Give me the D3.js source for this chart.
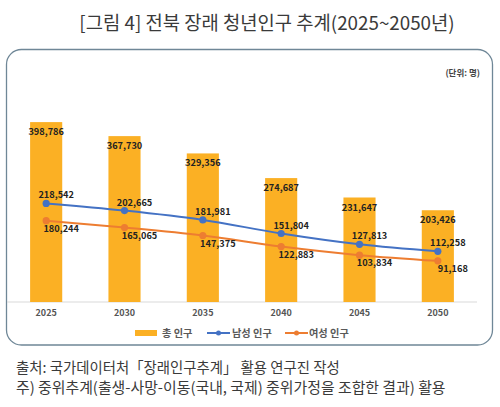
<!DOCTYPE html>
<html>
<head>
<meta charset="utf-8">
<script src="https://cdn.jsdelivr.net/npm/d3@7"></script>
<style>
  html, body { margin: 0; padding: 0; background: #fff; }
  svg { display: block; font-family: "Noto Sans CJK KR", "Noto Sans", sans-serif; }
</style>
</head>
<body>
<div class="canvas"></div>
<script>
// 데이터
const years = ['2025', '2030', '2035', '2040', '2045', '2050'];
const total = [398786, 367730, 329356, 274687, 231647, 203426];
const male = [218542, 202665, 181981, 151804, 127813, 112258];
const female = [180244, 165065, 147375, 122883, 103834, 91168];
const seriesNames = ['총 인구', '남성 인구', '여성 인구'];

const W = 500, H = 407;
const colors = { bar: '#FBB024', male: '#4472C4', female: '#ED7D31' };

const svg = d3.select('.canvas')
  .append('svg')
  .attr('width', W)
  .attr('height', H);

// 제목
svg.append('text')
  .attr('x', 267).attr('y', 30)
  .attr('text-anchor', 'middle')
  .attr('font-size', 18.8)
  .attr('fill', '#3a3a3a')
  .text('[그림 4] 전북 장래 청년인구 추계(2025~2050년)');

// 차트 테두리
svg.append('rect')
  .attr('x', 6.5).attr('y', 49.5)
  .attr('width', 486).attr('height', 295.5)
  .attr('rx', 15).attr('ry', 15)
  .attr('fill', '#fff')
  .attr('stroke', '#6f8797')
  .attr('stroke-width', 1.3);

svg.append('text')
  .attr('x', 480).attr('y', 76)
  .attr('text-anchor', 'end')
  .attr('font-size', 8.5)
  .attr('font-weight', 'bold')
  .attr('fill', '#444')
  .text('(단위: 명)');

// 스케일
const x = d3.scaleBand().domain(years).range([7, 477]).paddingInner(0.59).paddingOuter(0.295);
const y = d3.scaleLinear().domain([0, 450000]).range([302, 99]);
const cx = d => x(d) + x.bandwidth() / 2;

// 축
const xAxis = svg.append('g')
  .attr('transform', 'translate(0,302)')
  .call(d3.axisBottom(x).tickSize(0).tickPadding(8));
xAxis.select('.domain').attr('stroke', '#d9d9d9').attr('d', 'M7,0H477');
xAxis.selectAll('text')
  .attr('font-family', '"Noto Sans CJK KR", sans-serif')
  .attr('font-size', 9)
  .attr('font-weight', 'bold')
  .attr('fill', '#555');

// 막대
svg.append('g').selectAll('rect')
  .data(total)
  .enter().append('rect')
  .attr('x', (d, i) => x(years[i]))
  .attr('y', d => y(d))
  .attr('width', x.bandwidth())
  .attr('height', d => y(0) - y(d))
  .attr('fill', colors.bar);

svg.append('g').selectAll('text')
  .data(total)
  .enter().append('text')
  .attr('x', (d, i) => cx(years[i]))
  .attr('y', d => y(d) + 13)
  .attr('text-anchor', 'middle')
  .attr('font-size', 9.2)
  .attr('font-weight', 'bold')
  .attr('fill', '#222')
  .text(d => d3.format(',')(d));

// 선 (엑셀 부드러운 선 느낌)
const line = d3.line()
  .curve(d3.curveMonotoneX)
  .x((d, i) => cx(years[i]))
  .y(d => y(d));

const drawSeries = (vals, color, dx, dy) => {
  const g = svg.append('g');
  g.append('path')
    .datum(vals)
    .attr('d', line)
    .attr('fill', 'none')
    .attr('stroke', color)
    .attr('stroke-width', 2);
  g.selectAll('circle')
    .data(vals)
    .enter().append('circle')
    .attr('cx', (d, i) => cx(years[i]))
    .attr('cy', d => y(d))
    .attr('r', 3.6)
    .attr('fill', color);
  g.selectAll('text')
    .data(vals)
    .enter().append('text')
    .attr('x', (d, i) => cx(years[i]) + dx)
    .attr('y', d => y(d) + dy)
    .attr('text-anchor', 'middle')
    .attr('font-size', 9.2)
    .attr('font-weight', 'bold')
    .attr('fill', '#222')
    .text(d => d3.format(',')(d));
};
drawSeries(male, colors.male, 10, -5);
drawSeries(female, colors.female, 15, 11);

// 범례
const legend = svg.append('g').attr('transform', 'translate(0,333)');
legend.append('rect')
  .attr('x', 135).attr('y', -3).attr('width', 22).attr('height', 6)
  .attr('fill', colors.bar);
[[207, colors.male], [285, colors.female]].forEach(([lx, c]) => {
  legend.append('line')
    .attr('x1', lx).attr('x2', lx + 23)
    .attr('stroke', c).attr('stroke-width', 2);
  legend.append('circle')
    .attr('cx', lx + 11.5).attr('r', 2.5).attr('fill', c);
});
legend.selectAll('text')
  .data(seriesNames)
  .enter().append('text')
  .attr('x', (d, i) => [162, 232, 309][i])
  .attr('y', 3.8)
  .attr('font-size', 10.2)
  .attr('font-weight', 'bold')
  .attr('fill', '#595959')
  .text(d => d);

// 출처
svg.append('text')
  .attr('x', 16).attr('y', 373)
  .attr('font-size', 14.4)
  .attr('fill', '#3a3a3a')
  .text('출처: 국가데이터처「장래인구추계」 활용 연구진 작성');
svg.append('text')
  .attr('x', 16).attr('y', 393)
  .attr('font-size', 14.9)
  .attr('fill', '#3a3a3a')
  .text('주) 중위추계(출생-사망-이동(국내, 국제) 중위가정을 조합한 결과) 활용');
</script>
</body>
</html>
